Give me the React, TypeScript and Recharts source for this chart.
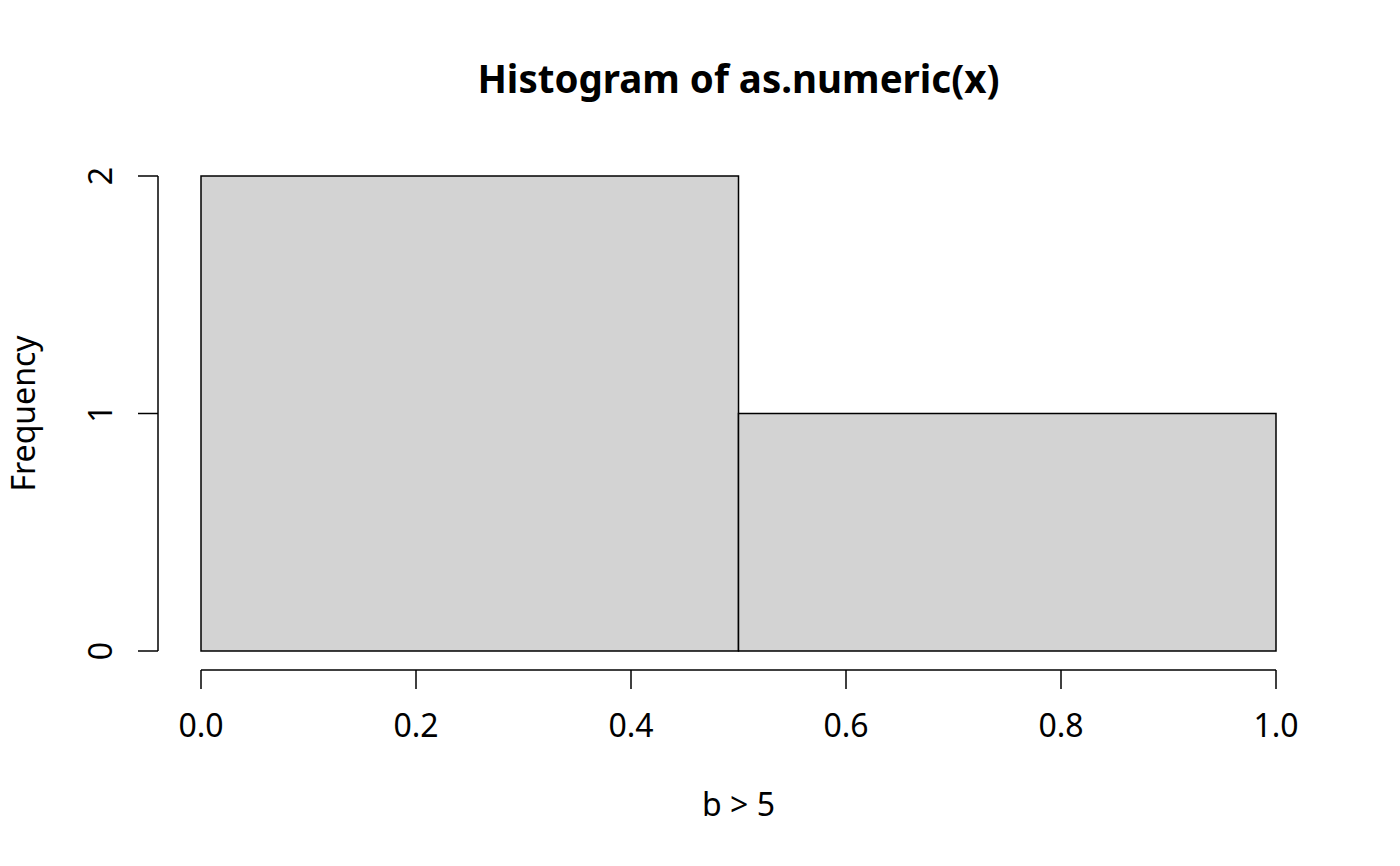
import React from 'react';
import { ComposedChart, XAxis, YAxis, ReferenceArea, ReferenceLine, Label, Customized } from 'recharts';

const binStarts = [0, 0.5];
const binEnds = [0.5, 1.0];
const counts = [2, 1];
const xTicks = [0, 0.2, 0.4, 0.6, 0.8, 1.0];
const yTicks = [0, 1, 2];
const titleText = 'Histogram of as.numeric(x)';
const xLabelText = 'b > 5';
const yLabelText = 'Frequency';

const FONT = "'Noto Sans', sans-serif";
const AXIS_FS = 32;
const LW = 1.5;

const xMin = 0, xMax = 1, yMin = 0, yMax = 2;
const xPad = (xMax - xMin) * 0.04;
const yPad = (yMax - yMin) * 0.04;

const bins = binStarts.map((s, i) => ({ start: s, end: binEnds[i], count: counts[i] }));

const XTick = (props: any) => {
  const { x, y, payload } = props;
  return (
    <text x={x} y={y} textAnchor="middle" fontFamily={FONT} fontSize={AXIS_FS} fill="#000">
      {Number(payload.value).toFixed(1)}
    </text>
  );
};

const YTick = (props: any) => {
  const { x, y, payload } = props;
  return (
    <text x={x} y={y} transform={`rotate(-90 ${x} ${y})`} textAnchor="middle" fontFamily={FONT} fontSize={AXIS_FS} fill="#000">
      {String(payload.value)}
    </text>
  );
};

const Title = (props: any) => {
  const off = props.offset || { left: 158, width: 1161 };
  const cx = off.left + off.width / 2;
  return (
    <text x={cx} y={93} textAnchor="middle" fontFamily={FONT} fontSize={38.5} fontWeight="bold" fill="#000">
      {titleText}
    </text>
  );
};

export default function App() {
  return (
    <div style={{ position: 'absolute', left: 0, top: 0, width: 1400, height: 866, background: '#fff' }}>
      <ComposedChart
        width={1400}
        height={866}
        data={bins}
        margin={{ top: 157, right: 81, bottom: 0, left: 0 }}
      >
        <XAxis
          type="number"
          dataKey="start"
          domain={[xMin - xPad, xMax + xPad]}
          ticks={xTicks}
          allowDataOverflow
          axisLine={false}
          tickLine={{ stroke: '#000', strokeWidth: LW }}
          tickSize={19}
          tickMargin={48}
          height={196}
          tick={<XTick />}
          interval={0}
        >
          <Label
            content={(p: any) => {
              const vb = p.viewBox || { x: 158, width: 1161 };
              return (
                <text x={vb.x + vb.width / 2} y={816} textAnchor="middle" fontFamily={FONT} fontSize={AXIS_FS} fill="#000">
                  {xLabelText}
                </text>
              );
            }}
          />
        </XAxis>
        <YAxis
          type="number"
          dataKey="count"
          domain={[yMin - yPad, yMax + yPad]}
          ticks={yTicks}
          allowDataOverflow
          axisLine={false}
          tickLine={{ stroke: '#000', strokeWidth: LW }}
          tickSize={20}
          tickMargin={26}
          width={158}
          tick={<YTick />}
          interval={0}
        >
          <Label
            content={(p: any) => {
              const vb = p.viewBox || { y: 157, height: 513 };
              const cy = vb.y + vb.height / 2;
              return (
                <text x={35} y={cy} transform={`rotate(-90 35 ${cy})`} textAnchor="middle" fontFamily={FONT} fontSize={AXIS_FS} fill="#000">
                  {yLabelText}
                </text>
              );
            }}
          />
        </YAxis>
        {bins.map((b, i) => (
          <ReferenceArea
            key={i}
            x1={b.start}
            x2={b.end}
            y1={0}
            y2={b.count}
            fill="#D3D3D3"
            fillOpacity={1}
            stroke="#000"
            strokeWidth={LW}
            ifOverflow="visible"
          />
        ))}
        <ReferenceLine
          segment={[{ x: xMin - xPad, y: yTicks[0] }, { x: xMin - xPad, y: yTicks[yTicks.length - 1] }]}
          stroke="#000"
          strokeWidth={LW}
          ifOverflow="visible"
        />
        <ReferenceLine
          segment={[{ x: xTicks[0], y: yMin - yPad }, { x: xTicks[xTicks.length - 1], y: yMin - yPad }]}
          stroke="#000"
          strokeWidth={LW}
          ifOverflow="visible"
        />
        <Customized component={Title} />
      </ComposedChart>
    </div>
  );
}
